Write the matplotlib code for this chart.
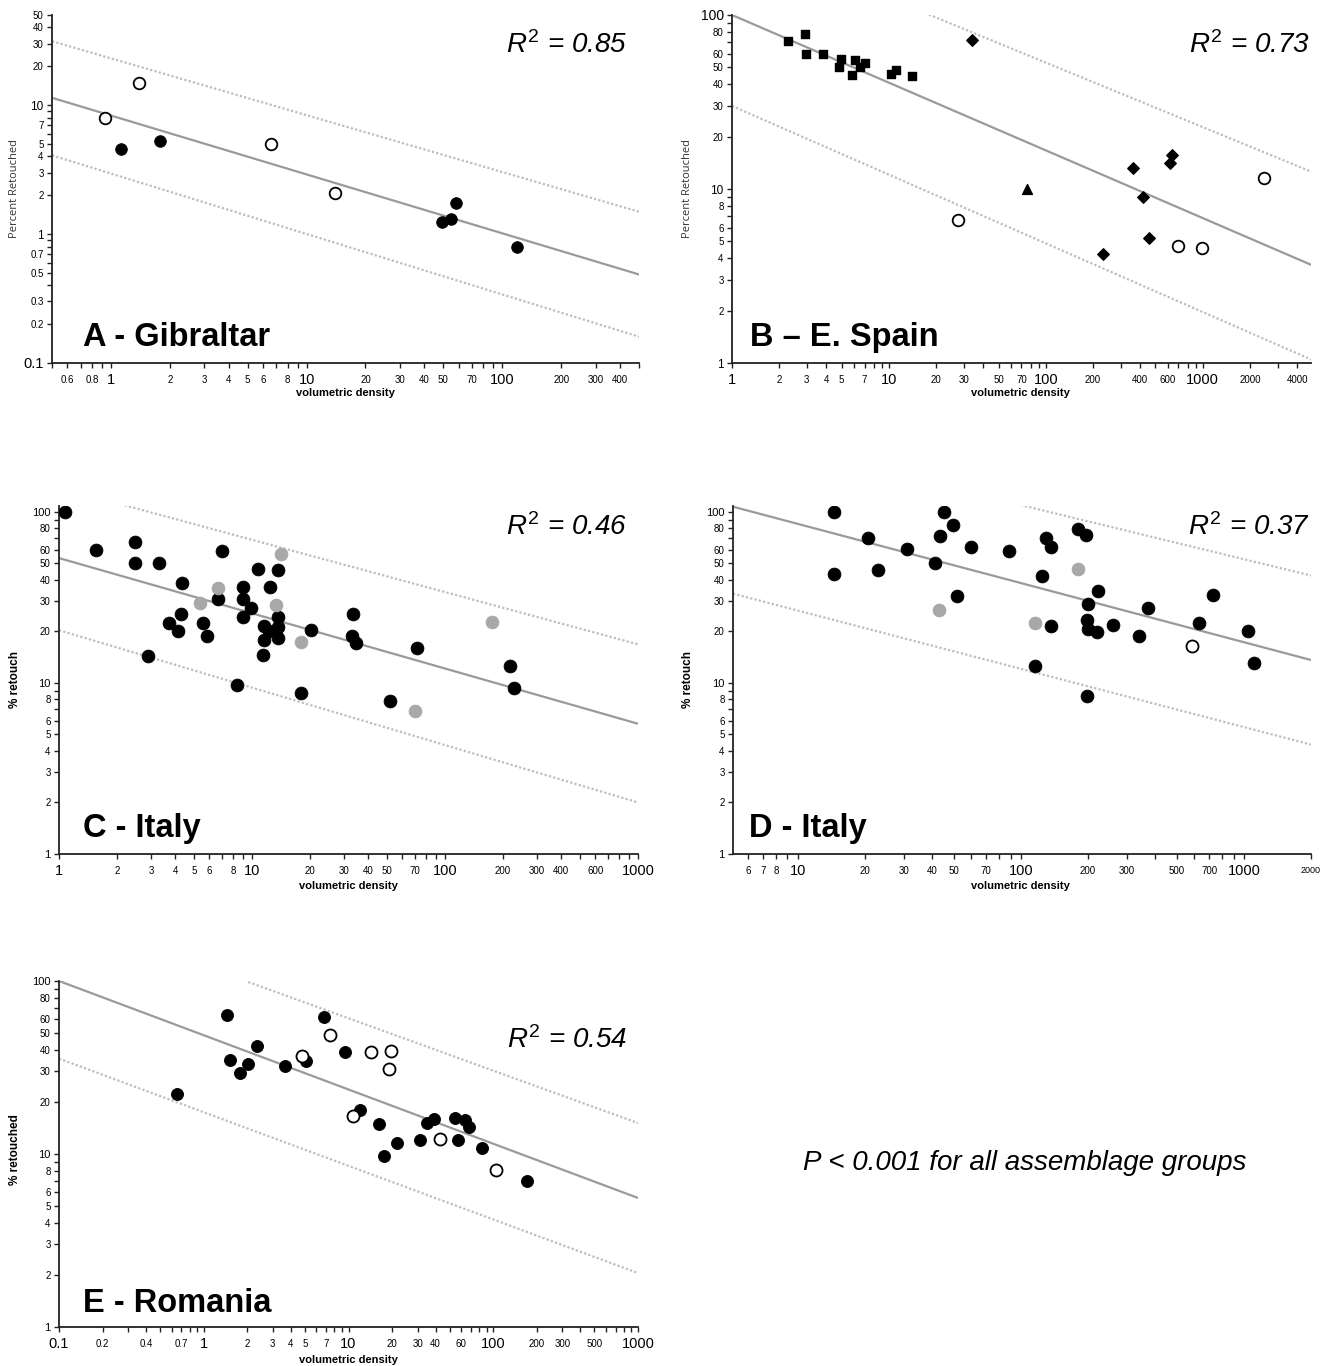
import matplotlib
matplotlib.use('Agg')
import matplotlib.pyplot as plt
from matplotlib.ticker import NullFormatter
from matplotlib import font_manager

plt.rcParams['font.family'] = ['Liberation Sans', 'DejaVu Sans']
plt.rcParams['mathtext.fontset'] = 'custom'
plt.rcParams['mathtext.it'] = 'Liberation Sans:italic'
plt.rcParams['mathtext.rm'] = 'Liberation Sans'

_names = {f.name for f in font_manager.fontManager.ttflist}
NARROW = 'Liberation Sans Narrow' if 'Liberation Sans Narrow' in _names else 'Liberation Sans'

# ---------------- data ----------------
# Panel A - Gibraltar
a_open_x = [0.93, 1.39, 6.6, 13.9]
a_open_y = [7.9, 14.8, 5.0, 2.1]
a_fill_x = [1.13, 1.78, 49, 54.6, 58, 119]
a_fill_y = [4.6, 5.3, 1.25, 1.3, 1.75, 0.79]
a_fit_x, a_fit_y = [0.5, 500], [11.4, 0.486]
a_up_x, a_up_y = [0.5, 500], [31.3, 1.49]
a_lo_x, a_lo_y = [0.5, 500], [4.08, 0.16]

# Panel B - E. Spain
b_sq_x = [2.26, 2.91, 2.97, 3.8, 4.84, 4.93, 5.86, 6.08, 6.59, 7.05, 10.3, 11.1, 14.0]
b_sq_y = [71.2, 78, 60, 60, 50.2, 55.8, 45.5, 55.3, 50.4, 52.7, 45.7, 48.4, 44.9]
b_dia_x = [33.7, 362, 615, 635, 414, 455, 232]
b_dia_y = [71.5, 13.2, 14.1, 15.6, 9.0, 5.25, 4.24]
b_tri_x = [75.7]
b_tri_y = [10.0]
b_open_x = [27.5, 697, 985, 2460]
b_open_y = [6.66, 4.72, 4.58, 11.5]
b_fit_x, b_fit_y = [1, 5000], [100, 3.64]
b_up_x, b_up_y = [18, 5000], [100.5, 12.5]
b_lo_x, b_lo_y = [1, 5000], [30, 1.04]

# Panel C - Italy
c_blk_x = [1.08, 1.55, 2.47, 2.47, 3.28, 2.88, 3.71, 4.12, 4.33, 4.31, 5.57, 5.82, 6.64,
           7.01, 8.32, 9.02, 8.93, 8.93, 9.9, 10.7, 12.4, 11.6, 12.3, 11.6, 11.4, 13.6,
           13.6, 13.6, 13.6, 17.9, 20.2, 33.2, 32.9, 34.6, 52.0, 71.7, 217, 227]
c_blk_y = [100, 60, 66.4, 49.9, 50, 14.3, 22.3, 20.0, 38.1, 25.1, 22.3, 18.7, 31.1,
           58.9, 9.75, 36.4, 31.1, 24.1, 27.2, 46.2, 36.5, 21.5, 20.1, 17.9, 14.6, 45.4,
           24.3, 21.2, 18.2, 8.68, 20.4, 25.3, 18.7, 17.0, 7.83, 16.0, 12.5, 9.29]
c_gry_x = [5.38, 6.67, 14.2, 13.3, 17.9, 176, 69.9]
c_gry_y = [29.1, 35.9, 56.3, 28.6, 17.3, 22.8, 6.81]
c_fit_x, c_fit_y = [1, 1000], [53.6, 5.77]
c_up_x, c_up_y = [2.19, 1000], [109, 16.8]
c_lo_x, c_lo_y = [1, 1000], [20.3, 2.0]

# Panel D - Italy
d_blk_x = [14.5, 14.5, 20.7, 22.8, 31.0, 41.4, 43.4, 45.4, 49.5, 51.9, 60, 88.7, 116,
           124, 130, 136, 136, 180, 196, 200, 199, 201, 198, 220, 222, 258, 340, 373,
           632, 724, 1040, 1114]
d_blk_y = [100, 43.2, 70.5, 45.6, 60.5, 50.3, 71.8, 100, 84, 32.3, 62.4, 58.6, 12.6,
           41.9, 70.5, 62.4, 21.4, 78.8, 73.1, 29.0, 23.2, 20.6, 8.4, 19.8, 34.4, 21.7,
           18.9, 27.2, 22.3, 32.6, 20.1, 13.0]
d_gry_x = [43.1, 116, 180]
d_gry_y = [26.8, 22.4, 46]
d_open_x = [588]
d_open_y = [16.4]
d_fit_x, d_fit_y = [5.13, 2000], [107, 13.6]
d_up_x, d_up_y = [95.5, 2000], [111, 42.4]
d_lo_x, d_lo_y = [5.13, 2000], [33.2, 4.36]

# Panel E - Romania
e_blk_x = [0.655, 1.44, 1.51, 1.79, 2.03, 2.35, 3.63, 5.07, 6.77, 9.51, 12.0, 16.3,
           17.6, 21.8, 31.3, 34.8, 39, 54.4, 57.4, 63.5, 67.9, 83.5, 171]
e_blk_y = [22.2, 63.6, 34.8, 29.4, 33, 42.1, 32.1, 34.5, 61.9, 39, 17.9, 14.9,
           9.78, 11.5, 12.05, 15.1, 15.9, 16.2, 12.0, 15.8, 14.3, 10.9, 7.0]
e_open_x = [4.77, 7.47, 14.2, 19.7, 18.9, 10.7, 43, 104]
e_open_y = [37, 48.5, 38.9, 39.4, 31.1, 16.6, 12.2, 8.05]
e_fit_x, e_fit_y = [0.1, 1000], [100, 5.57]
e_up_x, e_up_y = [2.03, 1000], [98.7, 15.1]
e_lo_x, e_lo_y = [0.1, 1000], [35.6, 2.05]

# tick labels
a_xt = ['0.6', '0.8', '1', '2', '3', '4', '5', '6', '8', '10', '20', '30', '40', '50', '70',
        '100', '200', '300', '400']
a_yt = ['0.1', '0.2', '0.3', '0.5', '0.7', '1', '2', '3', '4', '5', '7', '10', '20', '30',
        '40', '50']
b_xt = ['1', '2', '3', '4', '5', '7', '10', '20', '30', '50', '70', '100', '200', '400',
        '600', '1000', '2000', '4000']
b_yt = ['1', '2', '3', '4', '5', '6', '8', '10', '20', '30', '40', '50', '60', '80', '100']
c_xt = ['1', '2', '3', '4', '5', '6', '8', '10', '20', '30', '40', '50', '70', '100', '200',
        '300', '400', '600', '1000']
c_yt = ['1', '2', '3', '4', '5', '6', '8', '10', '20', '30', '40', '50', '60', '80', '100']
d_xt = ['6', '7', '8', '10', '20', '30', '40', '50', '70', '100', '200', '300', '500', '700',
        '1000', '2000']
e_xt = ['0.1', '0.2', '0.4', '0.7', '1', '2', '3', '4', '5', '7', '10', '20', '30', '40',
        '60', '100', '200', '300', '500', '1000']

# ---------------- figure ----------------
W, H = 1333, 1366
fig = plt.figure(figsize=(W / 100, H / 100), dpi=100)

SOLID = '#9a9a9a'
DOT = '#bdbdbd'
GRAY = '#a8a8a8'


def px_axes(l, t, r, b):
    return fig.add_axes([l / W, 1 - b / H, (r - l) / W, (b - t) / H])


def ftext(x, y, s, **kw):
    fig.text(x / W, 1 - y / H, s, **kw)


def is_pow10(v):
    import math
    lv = math.log10(v)
    return abs(lv - round(lv)) < 1e-6


def setup(ax, xlim, ylim, xt, yt, big_x=10.5, small_x=7, big_y=8, small_y=7,
          big_y_set=None):
    ax.set_xscale('log')
    ax.set_yscale('log')
    ax.set_xlim(*xlim)
    ax.set_ylim(*ylim)
    for s in ('top', 'right'):
        ax.spines[s].set_visible(False)
    for s in ('left', 'bottom'):
        ax.spines[s].set_linewidth(1.3)
        ax.spines[s].set_color('#222222')
    for axis, labels, lim, big, small in (('x', xt, xlim, big_x, small_x),
                                         ('y', yt, ylim, big_y, small_y)):
        vals = [float(s) for s in labels]
        minor = [m * 10.0 ** k for k in range(-2, 5) for m in range(1, 10)]
        minor = [v for v in minor if lim[0] * 0.999 <= v <= lim[1] * 1.001
                 and not any(abs(v - u) / u < 1e-6 for u in vals)]
        a = ax.xaxis if axis == 'x' else ax.yaxis
        a.set_ticks(vals)
        a.set_ticklabels(labels)
        a.set_ticks(minor, minor=True)
        a.set_minor_formatter(NullFormatter())
        for t, v, s in zip(a.get_ticklabels(), vals, labels):
            bigv = is_pow10(v)
            if axis == 'y' and big_y_set is not None and s in big_y_set:
                t.set_fontsize(big_y_set[s])
            else:
                t.set_fontsize(big if bigv else small)
            if not bigv:
                t.set_family([NARROW, 'Liberation Sans'])
            if axis == 'x':
                t.set_va('center')
    ax.tick_params(which='both', direction='out', length=3.5, width=1.0, color='#222222')
    ax.tick_params(axis='x', which='major', pad=8.5)
    ax.tick_params(axis='y', which='major', pad=2.5)
    ax.set_facecolor('none')


def lines(ax, fit, up, lo):
    ax.plot(fit[0], fit[1], color=SOLID, lw=1.6, zorder=2, solid_capstyle='butt')
    for xx, yy in (up, lo):
        ax.plot(xx, yy, color=DOT, lw=1.6, ls=(0, (1, 1)), zorder=2)


def circles(ax, x, y, kind, s):
    if kind == 'fill':
        ax.scatter(x, y, s=s, c='black', edgecolors='black', linewidths=0.6, zorder=3)
    elif kind == 'gray':
        ax.scatter(x, y, s=s, c=GRAY, edgecolors=GRAY, linewidths=0.6, zorder=3)
    else:
        ax.scatter(x, y, s=s, c='white', edgecolors='black', linewidths=1.3, zorder=3)


R2KW = dict(fontsize=20, fontstyle='italic', ha='right', va='center')
TKW = dict(fontsize=23.5, fontweight='bold', ha='left', va='baseline')
XLKW = dict(fontsize=8, fontweight='bold', ha='center', va='center')

# ---- A
axA = px_axes(52, 15, 639, 363)
setup(axA, (0.5, 500), (0.1, 50), a_xt, a_yt,
      big_y_set={'0.1': 10.5, '1': 8.5, '10': 8.5})
lines(axA, (a_fit_x, a_fit_y), (a_up_x, a_up_y), (a_lo_x, a_lo_y))
circles(axA, a_fill_x, a_fill_y, 'fill', 70)
circles(axA, a_open_x, a_open_y, 'open', 70)
ftext(627, 45, r'$\mathit{R}^{2}$ = 0.85', **R2KW)
ftext(83, 346, 'A - Gibraltar', **TKW)
ftext(345, 393, 'volumetric density', **XLKW)
ftext(15, 189, 'Percent Retouched', fontsize=8, rotation=90, ha='center', va='center',
      color='#333333', family=['Open Sans', 'Liberation Sans'])

# ---- B
axB = px_axes(732, 15, 1311, 363)
setup(axB, (1, 4900), (1, 100), b_xt, b_yt, big_y_set={'100': 10, '10': 8.5, '1': 8.5})
lines(axB, (b_fit_x, b_fit_y), (b_up_x, b_up_y), (b_lo_x, b_lo_y))
axB.scatter(b_sq_x, b_sq_y, s=34, marker='s', c='black', zorder=3)
axB.scatter(b_dia_x, b_dia_y, s=34, marker='D', c='black', zorder=3)
axB.scatter(b_tri_x, b_tri_y, s=50, marker='^', c='black', zorder=3)
circles(axB, b_open_x, b_open_y, 'open', 70)
ftext(1310, 45, r'$\mathit{R}^{2}$ = 0.73', **R2KW)
ftext(750, 346, 'B \u2013 E. Spain', **TKW)
ftext(1020, 393, 'volumetric density', **XLKW)
ftext(688, 189, 'Percent Retouched', fontsize=8, rotation=90, ha='center', va='center',
      color='#333333', family=['Open Sans', 'Liberation Sans'])

# ---- C
axC = px_axes(59, 506, 638, 854)
setup(axC, (1, 1000), (1, 108), c_xt, c_yt)
lines(axC, (c_fit_x, c_fit_y), (c_up_x, c_up_y), (c_lo_x, c_lo_y))
circles(axC, c_blk_x, c_blk_y, 'fill', 85)
circles(axC, c_gry_x, c_gry_y, 'gray', 85)
ftext(627, 527, r'$\mathit{R}^{2}$ = 0.46', **R2KW)
ftext(83, 837, 'C - Italy', **TKW)
ftext(348, 886, 'volumetric density', **XLKW)
ftext(15, 680, '% retouch', fontsize=8.5, fontweight='bold', rotation=90, ha='center',
      va='center')

# ---- D
axD = px_axes(733, 506, 1311, 854)
setup(axD, (5.13, 2000), (1, 108), d_xt, c_yt)
for t in axD.get_xticklabels():
    if t.get_text() == '2000':
        t.set_fontsize(6.5)
lines(axD, (d_fit_x, d_fit_y), (d_up_x, d_up_y), (d_lo_x, d_lo_y))
circles(axD, d_blk_x, d_blk_y, 'fill', 85)
circles(axD, d_gry_x, d_gry_y, 'gray', 85)
circles(axD, d_open_x, d_open_y, 'open', 75)
ftext(1310, 527, r'$\mathit{R}^{2}$ = 0.37', **R2KW)
ftext(749, 837, 'D - Italy', **TKW)
ftext(1020, 886, 'volumetric density', **XLKW)
ftext(688, 680, '% retouch', fontsize=8.5, fontweight='bold', rotation=90, ha='center',
      va='center')

# ---- E
axE = px_axes(59, 981, 638, 1327)
setup(axE, (0.1, 1000), (1, 100), e_xt, c_yt)
lines(axE, (e_fit_x, e_fit_y), (e_up_x, e_up_y), (e_lo_x, e_lo_y))
circles(axE, e_blk_x, e_blk_y, 'fill', 75)
circles(axE, e_open_x, e_open_y, 'open', 75)
ftext(627, 1040, r'$\mathit{R}^{2}$ = 0.54', **R2KW)
ftext(83, 1312, 'E - Romania', **TKW)
ftext(348, 1360, 'volumetric density', **XLKW)
ftext(15, 1150, '% retouched', fontsize=8.5, fontweight='bold', rotation=90, ha='center',
      va='center')

ftext(1025, 1163, 'P < 0.001 for all assemblage groups', fontsize=20, fontstyle='italic',
      ha='center', va='center')

fig.savefig('out.png', dpi=100)
